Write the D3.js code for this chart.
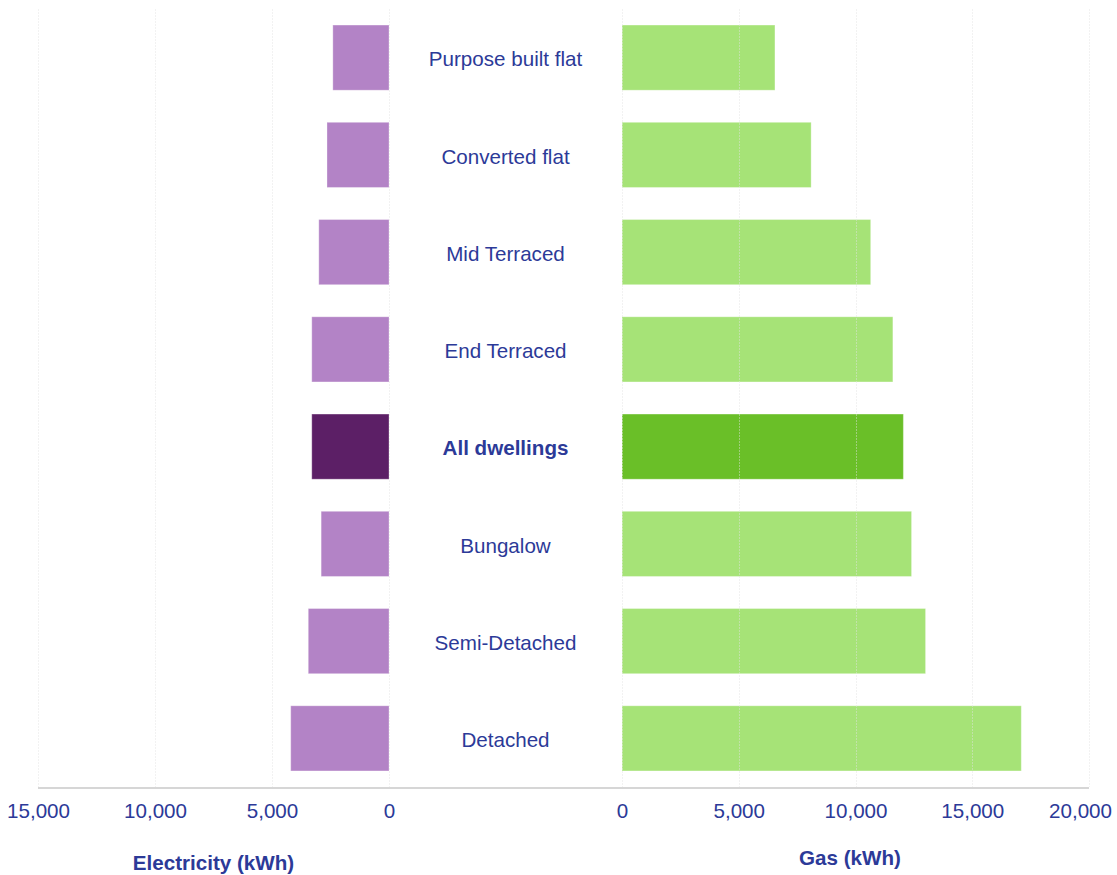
<!DOCTYPE html>
<html>
<head>
<meta charset="utf-8">
<script src="https://cdn.jsdelivr.net/npm/d3@7"></script>
<style>
  html, body { margin: 0; padding: 0; background: #fff; }
  svg { display: block; font-family: "Liberation Sans", Arial, Helvetica, sans-serif; }
</style>
</head>
<body>
<svg id="chart" width="1117" height="875"></svg>
<script>
// Typical annual domestic energy use by dwelling type
const dwellingTypes = [
  "Purpose built flat", "Converted flat", "Mid Terraced", "End Terraced",
  "All dwellings", "Bungalow", "Semi-Detached", "Detached"
];
const electricityKWh = [2400, 2650, 3000, 3300, 3300, 2900, 3450, 4200];
const gasKWh = [6550, 8100, 10650, 11600, 12050, 12400, 13000, 17100];
const highlighted = "All dwellings";

const elecTicks = [15000, 10000, 5000, 0];
const gasTicks = [0, 5000, 10000, 15000, 20000];
const elecTitle = "Electricity (kWh)";
const gasTitle = "Gas (kWh)";

const textColor = "#2c3a98";
const colors = {
  elec: "#b383c6", elecHi: "#5c1f66",
  gas: "#a6e377", gasHi: "#6abf28"
};
const fontSize = 20.6;

const svg = d3.select("#chart");
const width = +svg.attr("width");
const plotTop = 9, plotBottom = 787;
const leftX0 = 38, leftX1 = 389, rightX0 = 622, rightX1 = 1089;

const y = d3.scaleBand().domain(dwellingTypes).range([plotTop, plotBottom]).paddingInner(0.33).paddingOuter(0.165);
const xElec = d3.scaleLinear().domain([15000, 0]).range([leftX0, leftX1]);
const xGas = d3.scaleLinear().domain([0, 20000]).range([rightX0, rightX1]);

const rows = dwellingTypes.map((d, i) => ({ name: d, elec: electricityKWh[i], gas: gasKWh[i] }));

// Bars
svg.append("g").selectAll("rect").data(rows).join("rect")
  .attr("x", d => xElec(d.elec))
  .attr("y", d => y(d.name))
  .attr("width", d => xElec(0) - xElec(d.elec))
  .attr("height", y.bandwidth())
  .attr("fill", d => d.name === highlighted ? colors.elecHi : colors.elec)
  .attr("stroke", "rgba(255,255,255,0.3)").attr("stroke-width", 1);

svg.append("g").selectAll("rect").data(rows).join("rect")
  .attr("x", xGas(0))
  .attr("y", d => y(d.name))
  .attr("width", d => xGas(d.gas) - xGas(0))
  .attr("height", y.bandwidth())
  .attr("fill", d => d.name === highlighted ? colors.gasHi : colors.gas)
  .attr("stroke", "rgba(255,255,255,0.3)").attr("stroke-width", 1);

// Faint dashed gridlines over the bars
const grid = svg.append("g").attr("stroke", "#e2e2e2").attr("stroke-opacity", 0.45)
  .attr("stroke-dasharray", "2,1").attr("stroke-width", 1);
elecTicks.forEach(t => grid.append("line")
  .attr("x1", Math.round(xElec(t)) + 0.5).attr("x2", Math.round(xElec(t)) + 0.5)
  .attr("y1", plotTop).attr("y2", plotBottom));
gasTicks.forEach(t => grid.append("line")
  .attr("x1", Math.round(xGas(t)) + 0.5).attr("x2", Math.round(xGas(t)) + 0.5)
  .attr("y1", plotTop).attr("y2", plotBottom));

// Baseline
svg.append("line")
  .attr("x1", leftX0).attr("x2", rightX1)
  .attr("y1", plotBottom + 1).attr("y2", plotBottom + 1)
  .attr("stroke", "#d6d6d6").attr("stroke-width", 2);

// Axes (labels only); the outermost label is kept inside the canvas
const fmt = d3.format(",");
function styleAxis(g) {
  g.select(".domain").remove();
  g.selectAll(".tick line").remove();
  g.selectAll(".tick text")
    .attr("fill", textColor)
    .attr("font-size", fontSize)
    .attr("font-family", "'Liberation Sans', Arial, sans-serif")
    .attr("dy", "0.05em");
  g.selectAll(".tick text").each(function () {
    const box = this.getBBox();
    const tx = +this.parentNode.getAttribute("transform").match(/translate\(([-\d.]+)/)[1];
    const right = tx + box.x + box.width;
    if (right > width - 5) d3.select(this).attr("x", (width - 5) - right);
  });
}
svg.append("g").attr("transform", `translate(0,${plotBottom + 30})`)
  .call(d3.axisBottom(xElec).tickValues(elecTicks).tickFormat(fmt).tickSize(0).tickPadding(0))
  .call(styleAxis);
svg.append("g").attr("transform", `translate(0,${plotBottom + 30})`)
  .call(d3.axisBottom(xGas).tickValues(gasTicks).tickFormat(fmt).tickSize(0).tickPadding(0))
  .call(styleAxis);

// Axis titles
svg.append("text")
  .attr("x", (leftX0 + leftX1) / 2).attr("y", 870)
  .attr("text-anchor", "middle").attr("fill", textColor)
  .attr("font-size", fontSize).attr("font-weight", "bold")
  .text(elecTitle);
svg.append("text")
  .attr("x", 850).attr("y", 865)
  .attr("text-anchor", "middle").attr("fill", textColor)
  .attr("font-size", fontSize).attr("font-weight", "bold")
  .text(gasTitle);

// Category labels in the middle column
svg.append("g").selectAll("text").data(rows).join("text")
  .attr("x", (leftX1 + rightX0) / 2)
  .attr("y", d => y(d.name) + y.bandwidth() / 2)
  .attr("dy", "0.42em")
  .attr("text-anchor", "middle")
  .attr("fill", textColor)
  .attr("font-size", fontSize)
  .attr("font-weight", d => d.name === highlighted ? "bold" : "normal")
  .text(d => d.name);
</script>
</body>
</html>
